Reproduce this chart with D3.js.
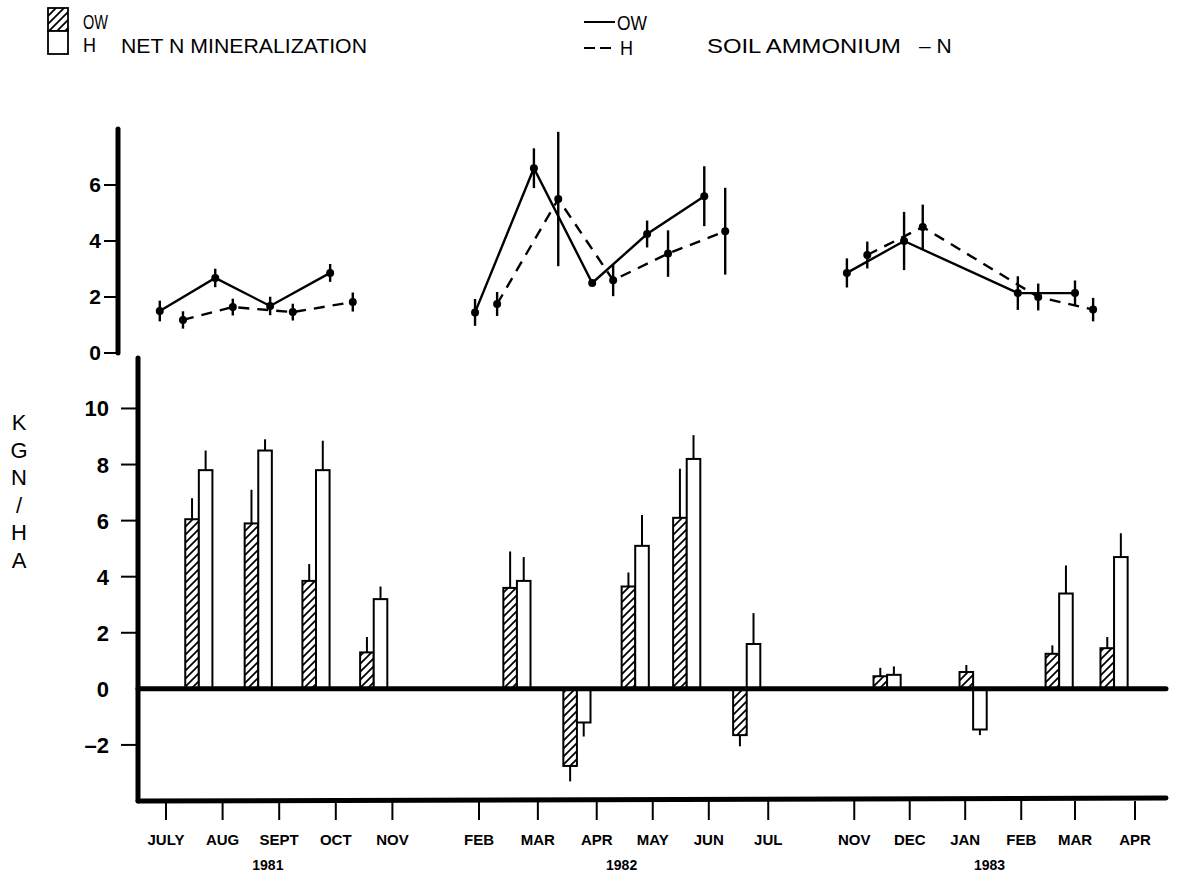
<!DOCTYPE html>
<html>
<head>
<meta charset="utf-8">
<script src="https://cdn.jsdelivr.net/npm/d3@7"></script>
<style>
  html, body { margin: 0; padding: 0; background: #fff; }
  svg { display: block; font-family: "Liberation Sans", Arial, Helvetica, sans-serif; }
</style>
</head>
<body>
<svg id="chart" width="1177" height="877"></svg>
<script>
// ---- Broken month axis: labels and their positions (in months along the axis) ----
const monthLabels = ["JULY","AUG","SEPT","OCT","NOV","FEB","MAR","APR","MAY","JUN","JUL","NOV","DEC","JAN","FEB","MAR","APR"];
const monthPos    = [0, 1, 2, 3, 4, 5.53, 6.57, 7.61, 8.60, 9.59, 10.64, 12.16, 13.14, 14.12, 15.11, 16.06, 17.12];
const yearLabels  = ["1981", "1982", "1983"];
const yearPos     = [1.8, 8.05, 14.55];

// ---- Net N mineralization (kg N/ha), paired bars per incubation ----
const minPos   = [0.58, 1.63, 2.65, 3.67, 6.20, 7.26, 8.29, 9.20, 10.26, 12.74, 14.26, 15.78, 16.75];
const minOW    = [6.05, 5.9, 3.85, 1.3, 3.6, -2.75, 3.65, 6.1, -1.65, 0.45, 0.6, 1.25, 1.45];
const minOWErr = [0.75, 1.2, 0.6, 0.55, 1.3, 0.55, 0.5, 1.75, 0.4, 0.3, 0.25, 0.3, 0.4];
const minH     = [7.8, 8.5, 7.8, 3.2, 3.85, -1.2, 5.1, 8.2, 1.6, 0.5, -1.45, 3.4, 4.7];
const minHErr  = [0.7, 0.4, 1.05, 0.45, 0.85, 0.5, 1.1, 0.85, 1.1, 0.3, 0.2, 1.0, 0.85];

// ---- Soil ammonium-N (kg N/ha); segment index breaks the lines between sampling years ----
const ammOWPos = [-0.11, 0.87, 1.84, 2.90, 5.46, 6.50, 7.53, 8.50, 9.51, 12.03, 13.04, 15.05, 16.06];
const ammOW    = [1.5, 2.68, 1.68, 2.86, 1.45, 6.6, 2.5, 4.25, 5.6, 2.86, 4.0, 2.14, 2.14];
const ammOWErr = [0.37, 0.33, 0.33, 0.32, 0.48, 0.71, 0.1, 0.48, 1.07, 0.52, 1.04, 0.6, 0.45];
const ammHPos  = [0.30, 1.18, 2.24, 3.30, 5.85, 6.93, 7.90, 8.87, 9.88, 12.39, 13.37, 15.41, 16.38];
const ammH     = [1.18, 1.64, 1.46, 1.82, 1.75, 5.5, 2.6, 3.55, 4.35, 3.5, 4.5, 2.0, 1.55];
const ammHErr  = [0.31, 0.3, 0.3, 0.34, 0.43, 2.4, 0.57, 0.83, 1.55, 0.48, 0.8, 0.48, 0.42];
const ammSeg   = [0, 0, 0, 0, 1, 1, 1, 1, 1, 2, 2, 2, 2];

const minTicks = [-2, 0, 2, 4, 6, 8, 10];
const ammTicks = [0, 2, 4, 6];

const svg = d3.select("#chart");

// ---- Scales ----
const x = d3.scaleLinear().domain([0, 17.12]).range([166, 1135]);
const yMin = d3.scaleLinear().domain([-4, 11.8]).range([801, 358]);
const yAmm = d3.scaleLinear().domain([0, 8]).range([353, 129]);
const barW = x(0.24) - x(0);

// ---- Hatch pattern for OW bars ----
const defs = svg.append("defs");
defs.append("pattern")
  .attr("id", "hatch")
  .attr("patternUnits", "userSpaceOnUse")
  .attr("width", 8).attr("height", 8)
  .append("path")
  .attr("d", "M-2,2 L2,-2 M0,8 L8,0 M6,10 L10,6")
  .attr("stroke", "#000").attr("stroke-width", 1.8);

// ---- Legend ----
const leg = svg.append("g");
leg.append("rect").attr("x", 48).attr("y", 8).attr("width", 20).attr("height", 23)
  .attr("fill", "url(#hatch)").attr("stroke", "#000").attr("stroke-width", 1.8);
leg.append("rect").attr("x", 48).attr("y", 31).attr("width", 20).attr("height", 23)
  .attr("fill", "#fff").attr("stroke", "#000").attr("stroke-width", 1.8);
leg.append("text").attr("x", 83).attr("y", 29).attr("font-size", 20)
  .attr("textLength", 25).attr("lengthAdjust", "spacingAndGlyphs").text("OW");
leg.append("text").attr("x", 83).attr("y", 52).attr("font-size", 20)
  .attr("textLength", 13).attr("lengthAdjust", "spacingAndGlyphs").text("H");
leg.append("text").attr("x", 121).attr("y", 53).attr("font-size", 21)
  .attr("textLength", 246).attr("lengthAdjust", "spacingAndGlyphs").text("NET N MINERALIZATION");
leg.append("line").attr("x1", 584).attr("x2", 615).attr("y1", 22).attr("y2", 22)
  .attr("stroke", "#000").attr("stroke-width", 2);
leg.append("line").attr("x1", 584).attr("x2", 614).attr("y1", 48).attr("y2", 48)
  .attr("stroke", "#000").attr("stroke-width", 2).attr("stroke-dasharray", "11,5");
leg.append("text").attr("x", 617).attr("y", 30).attr("font-size", 20)
  .attr("textLength", 30).attr("lengthAdjust", "spacingAndGlyphs").text("OW");
leg.append("text").attr("x", 620).attr("y", 55).attr("font-size", 20)
  .attr("textLength", 13).attr("lengthAdjust", "spacingAndGlyphs").text("H");
leg.append("text").attr("x", 707).attr("y", 53).attr("font-size", 21)
  .attr("textLength", 194).attr("lengthAdjust", "spacingAndGlyphs").text("SOIL AMMONIUM");
leg.append("text").attr("x", 919).attr("y", 53).attr("font-size", 21).text("\u2013 N");

// ---- Top panel: soil ammonium axis ----
const topAx = svg.append("g");
topAx.append("line").attr("x1", 118).attr("x2", 118)
  .attr("y1", yAmm(8)).attr("y2", yAmm(0))
  .attr("stroke", "#000").attr("stroke-width", 5).attr("stroke-linecap", "round");
topAx.selectAll(".tk").data(ammTicks).join("line")
  .attr("x1", 104).attr("x2", 118)
  .attr("y1", d => yAmm(d)).attr("y2", d => yAmm(d))
  .attr("stroke", "#000").attr("stroke-width", 2);
topAx.selectAll(".tl").data(ammTicks).join("text")
  .attr("x", 101).attr("y", d => yAmm(d) + 7)
  .attr("text-anchor", "end").attr("font-size", 21).attr("font-weight", "bold")
  .text(d => d);

// ---- Top panel: lines, dots, error bars ----
function ammSeries(pos, val, err, dashed) {
  const pts = pos.map((p, i) => ({ p, v: val[i], e: err[i], s: ammSeg[i] }));
  const line = d3.line().x(d => x(d.p)).y(d => yAmm(d.v));
  const g = svg.append("g");
  d3.groups(pts, d => d.s).forEach(([, seg]) => {
    g.append("path").attr("d", line(seg))
      .attr("fill", "none").attr("stroke", "#000").attr("stroke-width", 2.4)
      .attr("stroke-dasharray", dashed ? "11,8" : null);
  });
  g.selectAll(".eb").data(pts).join("line")
    .attr("x1", d => x(d.p)).attr("x2", d => x(d.p))
    .attr("y1", d => yAmm(d.v + d.e)).attr("y2", d => yAmm(d.v - d.e))
    .attr("stroke", "#000").attr("stroke-width", 2.4);
  g.selectAll(".dot").data(pts).join("circle")
    .attr("cx", d => x(d.p)).attr("cy", d => yAmm(d.v)).attr("r", 4)
    .attr("fill", "#000");
}
ammSeries(ammOWPos, ammOW, ammOWErr, false);
ammSeries(ammHPos, ammH, ammHErr, true);

// ---- Bottom panel: net mineralization axes ----
const botAx = svg.append("g");
botAx.selectAll(".tk").data(minTicks.filter(d => d !== 0)).join("line")
  .attr("x1", 121).attr("x2", 138)
  .attr("y1", d => yMin(d)).attr("y2", d => yMin(d))
  .attr("stroke", "#000").attr("stroke-width", 2);
botAx.selectAll(".tl").data(minTicks).join("text")
  .attr("x", 109).attr("y", d => yMin(d) + 8)
  .attr("text-anchor", "end").attr("font-size", 22).attr("font-weight", "bold")
  .text(d => d < 0 ? "\u2013" + Math.abs(d) : d);

// Y title, stacked letters
const titleChars = ["K", "G", "N", "/", "H", "A"];
svg.append("g").selectAll("text").data(titleChars).join("text")
  .attr("x", 19).attr("y", (d, i) => 430 + i * 27.5)
  .attr("text-anchor", "middle").attr("font-size", 22)
  .text(d => d);

// ---- Bars ----
const bars = svg.append("g");
function barRect(sel, offset, vals, fill) {
  sel.data(vals).join("rect")
    .attr("x", (d, i) => x(minPos[i] + offset))
    .attr("width", barW)
    .attr("y", d => yMin(Math.max(0, d)))
    .attr("height", d => Math.abs(yMin(d) - yMin(0)))
    .attr("fill", fill).attr("stroke", "#000").attr("stroke-width", 2);
}
function errBars(offset, vals, errs) {
  bars.append("g").selectAll("line").data(vals).join("line")
    .attr("x1", (d, i) => x(minPos[i] + offset) + barW / 2)
    .attr("x2", (d, i) => x(minPos[i] + offset) + barW / 2)
    .attr("y1", d => yMin(d))
    .attr("y2", (d, i) => yMin(d + Math.sign(d) * errs[i]))
    .attr("stroke", "#000").attr("stroke-width", 2);
}
errBars(-0.24, minOW, minOWErr);
errBars(0, minH, minHErr);
barRect(bars.append("g").selectAll("rect"), -0.24, minOW, "url(#hatch)");
barRect(bars.append("g").selectAll("rect"), 0, minH, "#fff");

// Axis frame: vertical axis, zero line and bottom baseline
botAx.append("line").attr("x1", 138).attr("x2", 138)
  .attr("y1", yMin(11.8)).attr("y2", yMin(-4))
  .attr("stroke", "#000").attr("stroke-width", 5).attr("stroke-linecap", "round");
svg.append("line").attr("x1", 138).attr("x2", 1166)
  .attr("y1", yMin(0)).attr("y2", yMin(0))
  .attr("stroke", "#000").attr("stroke-width", 5).attr("stroke-linecap", "round");
svg.append("line").attr("x1", 138).attr("x2", 1166)
  .attr("y1", yMin(-4)).attr("y2", yMin(-4) - 3)
  .attr("stroke", "#000").attr("stroke-width", 5).attr("stroke-linecap", "round");

// ---- Month ticks and labels ----
const xAx = svg.append("g");
xAx.selectAll("line").data(monthPos).join("line")
  .attr("x1", d => x(d)).attr("x2", d => x(d))
  .attr("y1", yMin(-4)).attr("y2", yMin(-4) + 19)
  .attr("stroke", "#000").attr("stroke-width", 2);
xAx.selectAll(".ml").data(monthLabels).join("text")
  .attr("x", (d, i) => x(monthPos[i])).attr("y", 845)
  .attr("text-anchor", "middle").attr("font-size", 15).attr("font-weight", "bold")
  .text(d => d);
xAx.selectAll(".yl").data(yearLabels).join("text")
  .attr("x", (d, i) => x(yearPos[i])).attr("y", 870)
  .attr("text-anchor", "middle").attr("font-size", 14).attr("font-weight", "bold")
  .text(d => d);
</script>
</body>
</html>
